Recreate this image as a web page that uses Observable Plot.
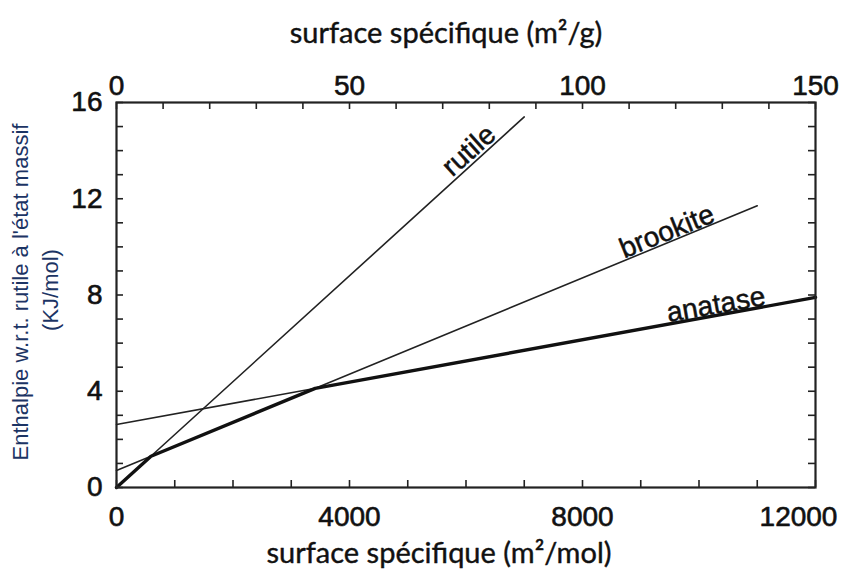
<!DOCTYPE html>
<html><head><meta charset="utf-8">
<script src="https://cdn.jsdelivr.net/npm/d3@7"></script>
<script src="https://cdn.jsdelivr.net/npm/@observablehq/plot@0.6"></script>
<style>body{margin:0;background:#fff}#chart{width:852px;height:574px}</style>
</head><body><div id="chart"></div>
<script>
// ---- data ----
const phases = ["rutile", "brookite", "anatase"];
const rutileX = [0, 7000];
const rutileY = [0, 15.4];
const brookiteX = [0, 11000];
const brookiteY = [0.71, 11.71];
const anataseX = [0, 12000];
const anataseY = [2.62, 7.9];
// thick lower envelope (most stable phase)
const envelopeX = [0, 592, 3411, 12000];
const envelopeY = [0, 1.30, 4.12, 7.9];
// phase labels
const labelText = ["rutile", "brookite", "anatase"];
const labelX = [6050, 9450, 10290];
const labelY = [14.0, 10.64, 7.6];
const labelAngle = [-42, -22, -10];
// axes
const bottomTicks = [0, 1000, 2000, 3000, 4000, 5000, 6000, 7000, 8000, 9000, 10000, 11000, 12000];
const bottomLabels = [0, 4000, 8000];
const bottomLastLabel = [12000];
const topTicks = [0, 10, 20, 30, 40, 50, 60, 70, 80, 90, 100, 110, 120, 130, 140, 150];
const topLabels = [0, 50, 100, 150];
const yTicks = [0, 1, 2, 3, 4, 5, 6, 7, 8, 9, 10, 11, 12, 13, 14, 15, 16];
const yLabels = [0, 4, 8, 12, 16];
const molarMass = 80; // g/mol TiO2, links m²/g (top) to m²/mol (bottom)
const xTitleTop = "surface spécifique (m²/g)";
const xTitleBottom = "surface spécifique (m²/mol)";
const yTitle1 = "Enthalpie w.r.t. rutile à l'état massif";
const yTitle2 = "(KJ/mol)";

// ---- build tables ----
const series = {rutile: [rutileX, rutileY], brookite: [brookiteX, brookiteY], anatase: [anataseX, anataseY]};
const lineRows = phases.flatMap(p => series[p][0].map((x, i) => ({phase: p, x, y: series[p][1][i]})));
const envRows = envelopeX.map((x, i) => ({x, y: envelopeY[i]}));
const labelRows = labelText.map((t, i) => ({t, x: labelX[i], y: labelY[i], a: labelAngle[i]}));

const W = 852, H = 574, mL = 116, mR = 37, mT = 102, mB = 87;
const fw = W - mL - mR, fh = H - mT - mB;
const tk = 7;
const tickFont = "Liberation Sans, Arial, Helvetica, sans-serif";
const num = {fontSize: 28, fill: "#111", stroke: "#111", strokeWidth: 0.6, lineAnchor: "middle"};

const chart = Plot.plot({
  width: W, height: H,
  marginLeft: mL, marginRight: mR, marginTop: mT, marginBottom: mB,
  x: {domain: [0, 12000], axis: null},
  y: {domain: [0, 16], axis: null},
  style: {background: "#fff", fontFamily: tickFont},
  marks: [
    Plot.line(lineRows, {x: "x", y: "y", z: "phase", stroke: "#222", strokeWidth: 1.6}),
    Plot.line(envRows, {x: "x", y: "y", stroke: "#111", strokeWidth: 3.4}),
    // inward ticks
    Plot.tickX(bottomTicks, {x: d => d, insetTop: fh - tk, stroke: "#222", strokeWidth: 1.6}),
    Plot.tickX(topTicks, {x: d => d * molarMass, insetBottom: fh - tk, stroke: "#222", strokeWidth: 1.6}),
    Plot.tickY(yTicks, {y: d => d, insetRight: fw - tk, stroke: "#222", strokeWidth: 1.6}),
    Plot.tickY(yTicks, {y: d => d, insetLeft: fw - tk, stroke: "#222", strokeWidth: 1.6}),
    Plot.frame({stroke: "#222", strokeWidth: 2.2}),
    // tick labels
    Plot.text(bottomLabels, {x: d => d, frameAnchor: "bottom", dy: 30, text: d => String(d), ...num}),
    Plot.text(bottomLastLabel, {x: d => d, frameAnchor: "bottom", dy: 30, dx: -17, text: d => String(d), ...num}),
    Plot.text(topLabels, {x: d => d * molarMass, frameAnchor: "top", dy: -16, text: d => String(d), ...num}),
    Plot.text(yLabels, {y: d => d, frameAnchor: "left", dx: -14, textAnchor: "end", text: d => String(d), ...num}),
    // phase labels
    Plot.text(labelRows, {x: "x", y: "y", text: "t", rotate: "a", fontSize: 28, fill: "#111", stroke: "#111", strokeWidth: 0.5, lineAnchor: "middle"}),
    // axis titles
    Plot.text([xTitleTop], {frameAnchor: "top", dx: -20, dy: -69, text: d => d, fontSize: 29, fontFamily: "Lato, sans-serif", fill: "#111", stroke: "#111", strokeWidth: 0.4, lineAnchor: "middle"}),
    Plot.text([xTitleBottom], {frameAnchor: "bottom", dx: -27, dy: 66, text: d => d, fontSize: 29, fontFamily: "Lato, sans-serif", fill: "#111", stroke: "#111", strokeWidth: 0.4, lineAnchor: "middle"}),
    Plot.text([yTitle1], {frameAnchor: "left", textAnchor: "middle", dx: -96, dy: -3, rotate: -90, text: d => d, fontSize: 22, fill: "#1c3464", lineAnchor: "middle"}),
    Plot.text([yTitle2], {frameAnchor: "left", textAnchor: "middle", dx: -66, dy: -5, rotate: -90, text: d => d, fontSize: 22, fill: "#1c3464", lineAnchor: "middle"})
  ]
});
document.getElementById("chart").append(chart);
</script>
</body></html>
